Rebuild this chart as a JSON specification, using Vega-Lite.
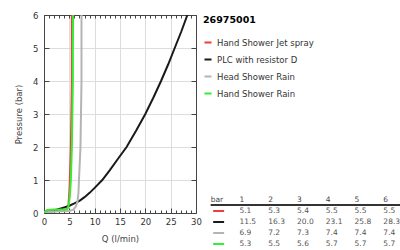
{
  "$schema": "https://vega.github.io/schema/vega-lite/v6.json",
  "padding": {"left": 14, "top": 11, "right": 0, "bottom": 0},
  "background": "white",
  "spacing": 0,
  "config": {
    "view": {"stroke": null},
    "font": "DejaVu Sans",
    "axis": {"labelFont": "DejaVu Sans", "titleFont": "DejaVu Sans", "labelFontSize": 8.5, "titleFontSize": 8.5, "titleFontWeight": "normal", "labelColor": "#333", "titleColor": "#444", "domainColor": "#444", "tickColor": "#444", "gridColor": "#dddddd", "gridWidth": 1}
  },
  "datasets": {
    "curves": [
      {"series": "Hand Shower Jet spray", "q": 0, "p": 0},
      {"series": "Hand Shower Jet spray", "q": 0.3, "p": 0.05},
      {"series": "Hand Shower Jet spray", "q": 0.8, "p": 0.09},
      {"series": "Hand Shower Jet spray", "q": 2, "p": 0.1},
      {"series": "Hand Shower Jet spray", "q": 3.5, "p": 0.105},
      {"series": "Hand Shower Jet spray", "q": 4.5, "p": 0.11},
      {"series": "Hand Shower Jet spray", "q": 4.8, "p": 0.2},
      {"series": "Hand Shower Jet spray", "q": 4.95, "p": 0.5},
      {"series": "Hand Shower Jet spray", "q": 5.05, "p": 0.8},
      {"series": "Hand Shower Jet spray", "q": 5.1, "p": 1},
      {"series": "Hand Shower Jet spray", "q": 5.2, "p": 1.5},
      {"series": "Hand Shower Jet spray", "q": 5.3, "p": 2},
      {"series": "Hand Shower Jet spray", "q": 5.35, "p": 2.5},
      {"series": "Hand Shower Jet spray", "q": 5.4, "p": 3},
      {"series": "Hand Shower Jet spray", "q": 5.45, "p": 3.5},
      {"series": "Hand Shower Jet spray", "q": 5.5, "p": 4},
      {"series": "Hand Shower Jet spray", "q": 5.5, "p": 5},
      {"series": "Hand Shower Jet spray", "q": 5.5, "p": 6},
      {"series": "PLC with resistor D", "q": 0, "p": 0},
      {"series": "PLC with resistor D", "q": 1, "p": 0.03},
      {"series": "PLC with resistor D", "q": 2, "p": 0.07},
      {"series": "PLC with resistor D", "q": 3, "p": 0.12},
      {"series": "PLC with resistor D", "q": 4, "p": 0.17},
      {"series": "PLC with resistor D", "q": 5, "p": 0.22},
      {"series": "PLC with resistor D", "q": 6, "p": 0.29},
      {"series": "PLC with resistor D", "q": 7, "p": 0.37},
      {"series": "PLC with resistor D", "q": 8, "p": 0.48},
      {"series": "PLC with resistor D", "q": 9, "p": 0.61},
      {"series": "PLC with resistor D", "q": 10, "p": 0.76},
      {"series": "PLC with resistor D", "q": 11.5, "p": 1},
      {"series": "PLC with resistor D", "q": 13, "p": 1.3},
      {"series": "PLC with resistor D", "q": 14.5, "p": 1.62},
      {"series": "PLC with resistor D", "q": 16.3, "p": 2},
      {"series": "PLC with resistor D", "q": 18.2, "p": 2.5},
      {"series": "PLC with resistor D", "q": 20, "p": 3},
      {"series": "PLC with resistor D", "q": 21.6, "p": 3.5},
      {"series": "PLC with resistor D", "q": 23.1, "p": 4},
      {"series": "PLC with resistor D", "q": 24.5, "p": 4.5},
      {"series": "PLC with resistor D", "q": 25.8, "p": 5},
      {"series": "PLC with resistor D", "q": 27.1, "p": 5.5},
      {"series": "PLC with resistor D", "q": 28.3, "p": 6},
      {"series": "Head Shower Rain", "q": 0, "p": 0},
      {"series": "Head Shower Rain", "q": 1, "p": 0.03},
      {"series": "Head Shower Rain", "q": 3, "p": 0.05},
      {"series": "Head Shower Rain", "q": 5, "p": 0.06},
      {"series": "Head Shower Rain", "q": 5.8, "p": 0.1},
      {"series": "Head Shower Rain", "q": 6.3, "p": 0.2},
      {"series": "Head Shower Rain", "q": 6.6, "p": 0.35},
      {"series": "Head Shower Rain", "q": 6.8, "p": 0.6},
      {"series": "Head Shower Rain", "q": 6.9, "p": 1},
      {"series": "Head Shower Rain", "q": 7.05, "p": 1.5},
      {"series": "Head Shower Rain", "q": 7.2, "p": 2},
      {"series": "Head Shower Rain", "q": 7.25, "p": 2.5},
      {"series": "Head Shower Rain", "q": 7.3, "p": 3},
      {"series": "Head Shower Rain", "q": 7.35, "p": 3.5},
      {"series": "Head Shower Rain", "q": 7.4, "p": 4},
      {"series": "Head Shower Rain", "q": 7.4, "p": 5},
      {"series": "Head Shower Rain", "q": 7.4, "p": 6},
      {"series": "Hand Shower Rain", "q": 0, "p": 0},
      {"series": "Hand Shower Rain", "q": 0.3, "p": 0.05},
      {"series": "Hand Shower Rain", "q": 0.8, "p": 0.09},
      {"series": "Hand Shower Rain", "q": 2, "p": 0.1},
      {"series": "Hand Shower Rain", "q": 3.5, "p": 0.105},
      {"series": "Hand Shower Rain", "q": 4.6, "p": 0.11},
      {"series": "Hand Shower Rain", "q": 4.9, "p": 0.25},
      {"series": "Hand Shower Rain", "q": 5.1, "p": 0.5},
      {"series": "Hand Shower Rain", "q": 5.3, "p": 1},
      {"series": "Hand Shower Rain", "q": 5.4, "p": 1.5},
      {"series": "Hand Shower Rain", "q": 5.5, "p": 2},
      {"series": "Hand Shower Rain", "q": 5.55, "p": 2.5},
      {"series": "Hand Shower Rain", "q": 5.6, "p": 3},
      {"series": "Hand Shower Rain", "q": 5.65, "p": 3.5},
      {"series": "Hand Shower Rain", "q": 5.7, "p": 4},
      {"series": "Hand Shower Rain", "q": 5.7, "p": 5},
      {"series": "Hand Shower Rain", "q": 5.75, "p": 6}
    ],
    "table": [
      {"series": "Hand Shower Jet spray", "bar": "1", "q": 5.1},
      {"series": "Hand Shower Jet spray", "bar": "2", "q": 5.3},
      {"series": "Hand Shower Jet spray", "bar": "3", "q": 5.4},
      {"series": "Hand Shower Jet spray", "bar": "4", "q": 5.5},
      {"series": "Hand Shower Jet spray", "bar": "5", "q": 5.5},
      {"series": "Hand Shower Jet spray", "bar": "6", "q": 5.5},
      {"series": "PLC with resistor D", "bar": "1", "q": 11.5},
      {"series": "PLC with resistor D", "bar": "2", "q": 16.3},
      {"series": "PLC with resistor D", "bar": "3", "q": 20.0},
      {"series": "PLC with resistor D", "bar": "4", "q": 23.1},
      {"series": "PLC with resistor D", "bar": "5", "q": 25.8},
      {"series": "PLC with resistor D", "bar": "6", "q": 28.3},
      {"series": "Head Shower Rain", "bar": "1", "q": 6.9},
      {"series": "Head Shower Rain", "bar": "2", "q": 7.2},
      {"series": "Head Shower Rain", "bar": "3", "q": 7.3},
      {"series": "Head Shower Rain", "bar": "4", "q": 7.4},
      {"series": "Head Shower Rain", "bar": "5", "q": 7.4},
      {"series": "Head Shower Rain", "bar": "6", "q": 7.4},
      {"series": "Hand Shower Rain", "bar": "1", "q": 5.3},
      {"series": "Hand Shower Rain", "bar": "2", "q": 5.5},
      {"series": "Hand Shower Rain", "bar": "3", "q": 5.6},
      {"series": "Hand Shower Rain", "bar": "4", "q": 5.7},
      {"series": "Hand Shower Rain", "bar": "5", "q": 5.7},
      {"series": "Hand Shower Rain", "bar": "6", "q": 5.7}
    ]
  },
  "resolve": {"scale": {"color": "shared"}, "legend": {"color": "shared"}},
  "hconcat": [
    {
      "width": 152,
      "height": 198,
      "data": {"name": "curves"},
      "resolve": {"axis": {"x": "independent", "y": "independent"}},
      "layer": [
        {
          "mark": {"type": "line", "strokeWidth": 2, "clip": true},
          "encoding": {
            "x": {"field": "q", "type": "quantitative", "scale": {"domain": [0, 30], "nice": false, "zero": true},
              "axis": {"orient": "bottom", "values": [0, 5, 10, 15, 20, 25, 30], "grid": true, "tickSize": -5, "labelPadding": 9, "title": "Q (l/min)", "titlePadding": 9, "labelFlush": false}},
            "y": {"field": "p", "type": "quantitative", "scale": {"domain": [0, 6], "nice": false},
              "axis": {"orient": "left", "values": [0, 1, 2, 3, 4, 5, 6], "grid": true, "tickSize": -5, "labelPadding": 11, "title": "Pressure (bar)", "titlePadding": 7, "minExtent": 14, "maxExtent": 14}},
            "color": {"field": "series", "type": "nominal",
              "scale": {"domain": ["Hand Shower Jet spray", "PLC with resistor D", "Head Shower Rain", "Hand Shower Rain"], "range": ["#f03c3c", "#1a1a1a", "#b4b4b4", "#33ee33"]},
              "legend": {"title": "26975001", "orient": "none", "legendX": 159, "legendY": 0, "padding": 0, "titleFont": "DejaVu Sans", "titleFontWeight": "bold", "titleFontSize": 9.5, "titleColor": "#000", "titlePadding": 13, "labelFont": "DejaVu Sans", "labelFontSize": 8.5, "labelColor": "#333", "labelOffset": 4, "symbolType": "stroke", "symbolStrokeWidth": 2, "symbolSize": 50, "rowPadding": 7}},
            "order": {"field": "p", "type": "quantitative"}
          }
        },
        {
          "mark": {"type": "line", "opacity": 0},
          "encoding": {
            "x": {"field": "q", "type": "quantitative", "axis": {"orient": "top", "values": [0,1,2,3,4,5,6,7,8,9,10,11,12,13,14,15,16,17,18,19,20,21,22,23,24,25,26,27,28,29,30], "grid": false, "labels": false, "tickSize": -3, "title": null}},
            "y": {"field": "p", "type": "quantitative", "axis": {"orient": "right", "values": [0, 1, 2, 3, 4, 5, 6], "grid": false, "labels": false, "tickSize": -5, "title": null}}
          }
        },
        {
          "mark": {"type": "line", "opacity": 0},
          "encoding": {
            "x": {"field": "q", "type": "quantitative", "axis": {"orient": "bottom", "values": [1,2,3,4,6,7,8,9,11,12,13,14,16,17,18,19,21,22,23,24,26,27,28,29], "grid": false, "labels": false, "domain": false, "tickSize": -3, "title": null}},
            "y": {"field": "p", "type": "quantitative", "axis": null}
          }
        }
      ]
    },
    {
      "spacing": 0,
      "vconcat": [
        {
          "width": 190,
          "height": 181,
          "data": {"values": []},
          "mark": "text",
          "encoding": {}
        },
        {
          "width": 190,
          "height": 44,
          "encoding": {
            "x": {"field": "bar", "type": "ordinal", "scale": {"type": "point", "domain": ["bar", "1", "2", "3", "4", "5", "6"], "padding": 0.3}, "axis": null},
            "y": {"field": "series", "type": "nominal", "scale": {"type": "point", "domain": ["bar", "Hand Shower Jet spray", "PLC with resistor D", "Head Shower Rain", "Hand Shower Rain"], "padding": 0}, "axis": null}
          },
          "layer": [
            {
              "data": {"values": [{"bar": "bar"}, {"bar": "1"}, {"bar": "2"}, {"bar": "3"}, {"bar": "4"}, {"bar": "5"}, {"bar": "6"}]},
              "mark": {"type": "text", "align": "left", "baseline": "middle", "font": "DejaVu Sans", "fontSize": 7.5, "color": "#444"},
              "encoding": {
                "y": {"datum": "bar"},
                "text": {"field": "bar"}
              }
            },
            {
              "data": {"values": [{}]},
              "mark": {"type": "rule", "color": "#333", "strokeWidth": 2, "yOffset": 5, "x2Offset": 20},
              "encoding": {
                "x": {"datum": "bar"},
                "x2": {"datum": "6"},
                "y": {"datum": "bar"}
              }
            },
            {
              "data": {"name": "table"},
              "transform": [{"filter": {"field": "bar", "equal": "1"}}],
              "mark": {"type": "point", "shape": "stroke", "filled": false, "strokeWidth": 2, "size": 120, "xOffset": 8, "opacity": 1},
              "encoding": {
                "x": {"datum": "bar"},
                "color": {"field": "series", "type": "nominal", "legend": null}
              }
            },
            {
              "data": {"name": "table"},
              "mark": {"type": "text", "align": "left", "baseline": "middle", "font": "DejaVu Sans", "fontSize": 7.5, "color": "#555"},
              "encoding": {
                "text": {"field": "q", "type": "quantitative", "format": ".1f"}
              }
            }
          ]
        }
      ]
    }
  ]
}
